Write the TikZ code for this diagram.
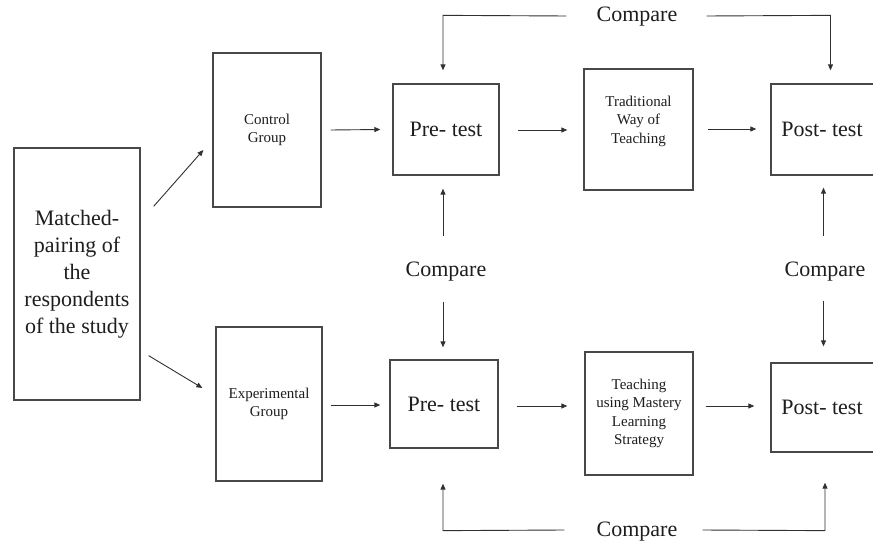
\documentclass[tikz,border=0pt]{standalone}
\usepackage{fontspec}
\setmainfont{Liberation Serif}
\usetikzlibrary{arrows.meta,calc}
\definecolor{boxline}{HTML}{484848}
\definecolor{arrline}{HTML}{303030}
\definecolor{txt}{HTML}{1E1E1E}
\tikzset{
  box/.style={draw=boxline,line width=1.3pt,inner sep=0pt,text=txt},
  bigtext/.style={font=\fontsize{22}{27}\selectfont,align=center,text=txt},
  smalltext/.style={font=\fontsize{15}{18.5}\selectfont,align=center,text=txt,inner sep=0pt},
  cmp/.style={font=\fontsize{22}{27}\selectfont,text=txt,inner sep=0pt},
  arr/.style={draw=arrline,line width=0.9pt,-{Triangle[length=6pt,width=5pt]}},
  ln/.style={draw=arrline,line width=0.9pt}
}
\begin{document}
\begin{tikzpicture}[x=1pt,y=-1pt]
\clip (0,0) rectangle (873,548);
\fill[white] (0,0) rectangle (873,548);

% boxes
\node[box,bigtext,minimum width=126pt,minimum height=252pt] (match) at (77,274) {Matched-\\pairing of\\the\\respondents\\of the study};
\node[box,smalltext,minimum width=108pt,minimum height=154pt] (cg) at (267,130) {Control\\Group};
\node[box,smalltext,minimum width=106pt,minimum height=154pt] (eg) at (269,404) {Experimental\\Group};
\node[box,bigtext,minimum width=106pt,minimum height=91pt] (pre1) at (446,129.5) {Pre- test};
\node[box,bigtext,minimum width=108pt,minimum height=88pt] (pre2) at (444,404) {Pre- test};
\node[box,minimum width=109pt,minimum height=121pt] (trad) at (638.5,129.5) {};
\node[smalltext] (tradt) at (638.5,121) {Traditional\\Way of\\Teaching};
\node[box,smalltext,minimum width=108pt,minimum height=123pt] (teach) at (639,413.5) {Teaching\\using Mastery\\Learning\\Strategy};
\node[box,minimum width=105pt,minimum height=91pt] (post1) at (823.5,129.5) {};
\node[bigtext] (post1t) at (822,129.5) {Post- test};
\node[box,minimum width=105pt,minimum height=89pt] (post2) at (823.5,407.5) {};
\node[bigtext] (post2t) at (822,407.5) {Post- test};

% compare labels
\node[cmp] (cmpTop) at (637,17) {Compare};
\node[cmp] (cmpMidL) at (446,272) {Compare};
\node[cmp] (cmpMidR) at (825,272) {Compare};
\node[cmp] (cmpBot) at (637,532) {Compare};

% diagonal arrows from match
\draw[arr] ($(match.north east)+(13,59)$) -- ($(cg.west)+(-9,20)$);
\draw[arr] ($(match.south east)+(8,-45)$) -- ($(eg.west)+(-13,-16)$);

% horizontal arrows
\draw[arr] ($(cg.east)+(9,0)$) -- ($(pre1.west)+(-12,0)$);
\draw[arr] ($(eg.east)+(8,1)$) -- ($(pre2.west)+(-9,1)$);
\draw[arr] ($(pre1.east)+(18,0.5)$) -- ($(trad.west)+(-16,0.5)$);
\draw[arr] ($(pre2.east)+(18,2)$) -- ($(teach.west)+(-17,-7.5)$);
\draw[arr] ($(trad.east)+(14,-0.5)$) -- ($(post1.west)+(-14,-0.5)$);
\draw[arr] ($(teach.east)+(12,-7.5)$) -- ($(post2.west)+(-16,-1.5)$);

% top compare
\draw[arr] ($(cmpTop.west)+(-30,-1)$) -- ($(pre1.north)+(-3,-68)$) -- ($(pre1.north)+(-3,-13)$);
\draw[arr] ($(cmpTop.east)+(29,-1)$) -- ($(post1.north)+(7,-68)$) -- ($(post1.north)+(7,-13)$);

% middle compare
\draw[arr] ($(pre1.south)+(-3,60)$) -- ($(pre1.south)+(-3,13)$);
\draw[arr] ($(pre2.north)+(-1,-57)$) -- ($(pre2.north)+(-1,-12)$);
\draw[arr] ($(post1.south)+(0,60)$) -- ($(post1.south)+(0,12)$);
\draw[arr] ($(post2.north)+(0,-61)$) -- ($(post2.north)+(0,-16)$);

% bottom compare
\draw[arr] ($(cmpBot.west)+(-32,-2)$) -- ($(pre2.south)+(-1,82)$) -- ($(pre2.south)+(-1,35)$);
\draw[arr] ($(cmpBot.east)+(25,-2)$) -- ($(post2.south)+(1.5,78)$) -- ($(post2.south)+(1.5,30)$);
\end{tikzpicture}
\end{document}
